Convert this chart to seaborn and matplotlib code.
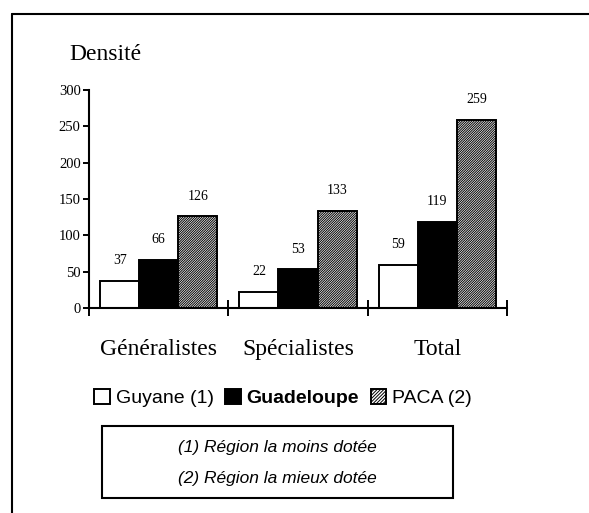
import matplotlib
matplotlib.use("Agg")
import matplotlib.pyplot as plt
import seaborn as sns
import pandas as pd
from matplotlib.lines import Line2D

# values
categories = ["Généralistes", "Spécialistes", "Total"]
regions = ["Guyane (1)", "Guadeloupe", "PACA (2)"]
guyane = [37, 22, 59]
guadeloupe = [66, 53, 119]
paca = [126, 133, 259]
y_ticks = [0, 50, 100, 150, 200, 250, 300]
note_lines = ["(1) Région la moins dotée", "(2) Région la mieux dotée"]

rows = []
for region, vals in zip(regions, [guyane, guadeloupe, paca]):
    for cat, v in zip(categories, vals):
        rows.append({"cat": cat, "region": region, "val": v})
df = pd.DataFrame(rows)

sns.set_style("white")
plt.rcParams["hatch.linewidth"] = 0.7
plt.rcParams["text.color"] = "black"
plt.rcParams["xtick.color"] = "black"
plt.rcParams["ytick.color"] = "black"
serif = ["Liberation Serif", "DejaVu Serif"]
sans = ["Liberation Sans", "DejaVu Sans"]
HATCH = "/" * 14

fig = plt.figure(figsize=(5.89, 5.13), dpi=100)
ax = fig.add_axes([89 / 589, 1 - 308 / 513, 418 / 589, 218 / 513])

sns.barplot(data=df, x="cat", y="val", hue="region", hue_order=regions,
            palette=["white", "black", "white"], edgecolor="black",
            linewidth=1.4, width=0.84, saturation=1, ax=ax)

# hatch the PACA bars
for bar in ax.containers[2]:
    bar.set_hatch(HATCH)

for cont in ax.containers:
    ax.bar_label(cont, padding=10, fontsize=10, family=serif)

handles, labels = ax.get_legend_handles_labels()
ax.get_legend().remove()
handles[2].set_hatch("/" * 10)

ax.set_xlim(-0.5, 2.5)
ax.set_ylim(0, 300)
ax.set_yticks(y_ticks)
ax.set_xlabel("")
ax.set_ylabel("")
sns.despine(ax=ax)
for side in ["left", "bottom"]:
    ax.spines[side].set_linewidth(1.5)
    ax.spines[side].set_color("black")

ax.tick_params(axis="y", direction="out", length=4, width=1.4, pad=2,
               labelsize=10.5, left=True)
ax.tick_params(axis="x", which="major", length=0, pad=22, labelsize=17)
ax.set_xticks([-0.5, 0.5, 1.5, 2.5], minor=True)
ax.tick_params(axis="x", which="minor", direction="inout", length=12,
               width=1.4, bottom=True)
for t in ax.get_xticklabels() + ax.get_yticklabels():
    t.set_family(serif)

fig.text(69 / 589, 1 - 55 / 513, "Densité", fontsize=17, family=serif,
         ha="left", va="center")

leg = fig.legend(handles, labels, loc="center",
                 bbox_to_anchor=(283 / 589, 1 - 398 / 513), ncol=3,
                 frameon=False, handlelength=0.8, handleheight=0.8,
                 handletextpad=0.3, columnspacing=0.6,
                 prop={"family": sans, "size": 14})
leg.get_texts()[1].set_fontweight("bold")

fig.text(277 / 589, 1 - 463 / 513, "\n".join(note_lines), fontsize=12.5,
         family=sans, style="italic", ha="center", va="center",
         linespacing=2.35)
box = plt.Rectangle((102 / 589, 1 - 498 / 513), 351 / 589, 72 / 513,
                    transform=fig.transFigure, fill=False, lw=1.5,
                    edgecolor="black")
fig.add_artist(box)

# outer frame (top and left edges only)
fig.add_artist(Line2D([12 / 589, 1], [1 - 14 / 513, 1 - 14 / 513],
                      transform=fig.transFigure, color="black", lw=1.5))
fig.add_artist(Line2D([12 / 589, 12 / 589], [0, 1 - 14 / 513],
                      transform=fig.transFigure, color="black", lw=1.5))

fig.savefig("out.png", dpi=100)
